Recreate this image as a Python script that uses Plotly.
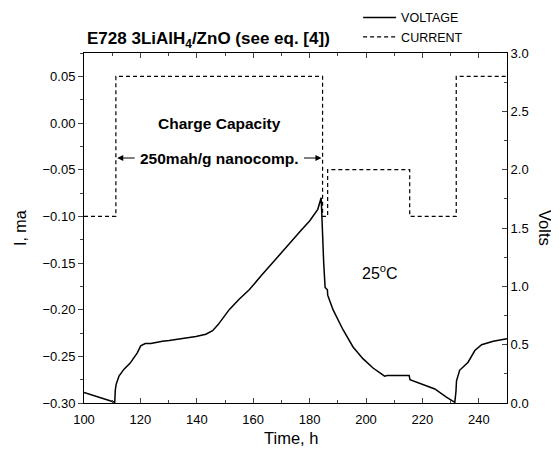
import plotly.graph_objects as go

# Current (left axis, mA)
cur_t = [100, 111.3, 111.3, 184.6, 184.6, 186.4, 186.4, 215.5, 215.5, 232.0, 232.0, 250]
cur_i = [-0.10, -0.10, 0.05, 0.05, -0.10, -0.10, -0.05, -0.05, -0.10, -0.10, 0.05, 0.05]

# Voltage (right axis, V)
volt_t = [100, 105, 110.9, 111.1, 111.4, 112.4, 114.2, 116.3, 118.9, 120.1, 121.7, 123.7,
          127.8, 130.2, 135, 139.7, 143.2, 145.6, 147.5, 151.5, 155, 158.6, 162.8, 166, 169.3,
          174, 177, 180, 182.9, 184.1, 184.3, 184.6, 185.0, 185.5, 186.3, 186.4, 186.5,
          188.3, 191.8, 195.4, 198.9, 202.5, 206.6, 207.5, 210.7, 215.3, 215.6, 220,
          224.4, 228.5, 231.5, 231.9, 232.1, 233.2, 236.2, 238.6, 241, 245.1, 250]
volt_v = [0.09, 0.05, 0.006, 0.11, 0.16, 0.23, 0.29, 0.34, 0.43, 0.49, 0.51, 0.51,
          0.53, 0.535, 0.55, 0.57, 0.59, 0.62, 0.67, 0.80, 0.89, 0.97, 1.09, 1.18, 1.27,
          1.40, 1.48, 1.56, 1.66, 1.76, 1.60, 1.40, 1.20, 0.99, 0.97, 0.93, 0.92,
          0.80, 0.63, 0.48, 0.38, 0.30, 0.23, 0.235, 0.235, 0.235, 0.20, 0.16,
          0.12, 0.05, 0.006, 0.10, 0.19, 0.28, 0.35, 0.45, 0.50, 0.53, 0.55]

x_ticks = [100, 120, 140, 160, 180, 200, 220, 240]
left_ticks = [0.05, 0.00, -0.05, -0.10, -0.15, -0.20, -0.25, -0.30]
right_ticks = [0.0, 0.5, 1.0, 1.5, 2.0, 2.5, 3.0]

FONT = "Liberation Sans, Arial, sans-serif"

fig = go.Figure()
fig.add_trace(go.Scatter(x=volt_t, y=volt_v, mode="lines", name="VOLTAGE", yaxis="y2",
                         line=dict(color="black", width=1.5)))
fig.add_trace(go.Scatter(x=cur_t, y=cur_i, mode="lines", name="CURRENT",
                         line=dict(color="black", width=1.2, dash="4px,3px")))

fig.update_layout(
    width=551, height=441,
    margin=dict(l=76, r=52, t=45, b=46, autoexpand=False),
    paper_bgcolor="white", plot_bgcolor="white",
    font=dict(family=FONT, size=13, color="black"),
    showlegend=True,
    legend=dict(x=0.648, xanchor="left", y=1.143, yanchor="top",
                bgcolor="rgba(0,0,0,0)", font=dict(size=12.5, family=FONT),
                itemwidth=33, tracegroupgap=0),
    xaxis=dict(range=[100, 250], tickvals=x_ticks, ticks="inside", ticklen=5,
               showline=True, linecolor="black", linewidth=1, mirror="ticks",
               showgrid=False, zeroline=False, automargin=False, ticklabelstandoff=4,
               minor=dict(dtick=10, tick0=100, ticks="inside", ticklen=3, showgrid=False)),
    yaxis=dict(range=[-0.30, 0.075], tickvals=left_ticks, tickformat=".2f",
               ticks="outside", ticklen=5, showline=True, linecolor="black", linewidth=1,
               showgrid=False, zeroline=False, automargin=False,
               minor=dict(dtick=0.025, tick0=0, ticks="outside", ticklen=3, showgrid=False)),
    yaxis2=dict(range=[0, 3.0], tickvals=right_ticks, tickformat=".1f", overlaying="y",
                side="right", ticks="inside", ticklen=5, showline=True, linecolor="black",
                linewidth=1, showgrid=False, zeroline=False, automargin=False,
                minor=dict(dtick=0.25, tick0=0, ticks="inside", ticklen=3, showgrid=False)),
)

ann = []
ann.append(dict(xref="paper", yref="paper", x=0.0, y=1.0, xanchor="left", yanchor="bottom",
                xshift=1, yshift=0, showarrow=False,
                text="<b>E728 3LiAlH<sub>4</sub>/ZnO (see eq. [4])</b>",
                font=dict(size=17, family=FONT)))
ann.append(dict(xref="paper", yref="paper", x=1.0, y=0.5, xanchor="center", yanchor="middle",
                xshift=38, showarrow=False,
                text="Volts", textangle=90, font=dict(size=16.5, family=FONT)))
ann.append(dict(xref="paper", yref="paper", x=0.0, y=0.5, xanchor="center", yanchor="middle",
                xshift=-64, showarrow=False,
                text="I, ma", textangle=-90, font=dict(size=16, family=FONT)))
ann.append(dict(xref="paper", yref="paper", x=0.5, y=0.0, xanchor="center", yanchor="middle",
                xshift=-5, yshift=-35,
                showarrow=False, text="Time, h", font=dict(size=16.5, family=FONT)))
ann.append(dict(xref="x", yref="y", x=148, y=0.0, showarrow=False,
                text="<b>Charge Capacity</b>", font=dict(size=15.5, family=FONT)))
ann.append(dict(xref="x", yref="y", x=148, y=-0.0375, showarrow=False,
                text="<b>250mah/g nanocomp.</b>", font=dict(size=15.5, family=FONT)))
ann.append(dict(xref="x", yref="y", x=111.8, y=-0.0375, ax=118.5, ay=-0.0375,
                axref="x", ayref="y", text="", showarrow=True, arrowhead=2,
                arrowsize=1, arrowwidth=1.2, arrowcolor="black"))
ann.append(dict(xref="x", yref="y", x=184.2, y=-0.0375, ax=177.5, ay=-0.0375,
                axref="x", ayref="y", text="", showarrow=True, arrowhead=2,
                arrowsize=1, arrowwidth=1.2, arrowcolor="black"))
ann.append(dict(xref="x", yref="y2", x=205, y=1.12, showarrow=False,
                text="25<sup>o</sup>C", font=dict(size=16, family=FONT)))
fig.update_layout(annotations=ann)

fig.write_html("out.html")
